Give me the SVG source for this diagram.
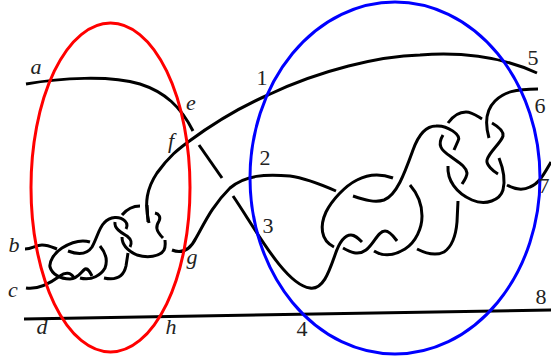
<svg xmlns="http://www.w3.org/2000/svg" width="551" height="356" viewBox="0 0 551 356">
<style>
.s{fill:none;stroke:#000;stroke-width:3;stroke-linecap:butt}
.t{font-family:"Liberation Serif","Times New Roman",serif;font-size:22px;fill:#222;text-anchor:middle}
.i{font-style:italic}
</style>
<rect width="551" height="356" fill="#fff"/>
<g id="connectors">
<path class="s" d="M26,84 C60,78 110,75 140,84 C165,92 181,107 193,131"/>
<path class="s" d="M199,145 L222,178"/>
<path class="s" d="M233,196 C255,228 285,285 310,288 C323,290 329,272 335,255 C340,240 345,235 351,235 C355,235 358,238 362,242"/>
<path class="s" d="M149,223 C144,203 147,188 157,173 C170,155 180,148 188,142 C215,122 245,105 268,95 C320,70 380,56 420,55 C460,52 500,56 537,73"/>
<path class="s" d="M172,250 C182,254 190,250 196,238 C205,222 212,206 230,188 C245,175 265,174 290,176 C305,178 320,184 336,191"/>
<path class="s" d="M24,319 L551,310"/>
<path class="s" d="M393,178 C385,175 372,172 357,180 C345,186 332,200 326,212 C320,225 320,240 334,247"/>
<path class="s" d="M353,196 C365,200 375,203 384,200 C397,195 405,172 413,150 C418,136 425,126 436,126 C447,125 462,135 458,141 L454,150"/>
<path class="s" d="M343,248 C350,252 358,256 366,250 C374,244 378,231 385,231 C390,231 394,237 397,241"/>
<path class="s" d="M374,251 C382,256 392,257 405,249 C416,242 422,228 422,216 C422,204 417,193 410,185"/>
<path class="s" d="M417,249 C425,253 436,256 444,252 C453,246 456,234 457,222 L458,201"/>
<path class="s" d="M448,166 C447,180 456,193 472,200 C486,206 500,200 503,190 C506,178 503,168 499,158"/>
<path class="s" d="M443,135 C437,145 441,150 450,156 C458,162 466,166 467,173 C467,177 464,181 462,184"/>
<path class="s" d="M448,123 C453,116 459,112 466,112 C472,112 477,116 482,119"/>
<path class="s" d="M489,138 C485,124 486,110 495,101 C504,92 515,89 538,89"/>
<path class="s" d="M492,123 C499,127 504,131 503,136 C501,143 489,152 487,160 C486,165 493,171 498,174"/>
<path class="s" d="M507,185 C514,189 522,191 530,187 C540,183 545,172 551,162"/>
<path class="s" d="M25,249 C32,249 36,245 42,245 C48,245 52,247 57,249"/>
<path class="s" d="M26,288 C38,290 49,284 60,276 C65,272 71,272 74,278"/>
<path class="s" d="M90,242 C80,239 70,243 62,248 C54,253 49,262 50,267 C52,274 60,279 70,279 C78,279 81,272 85,269 C88,268 90,272 92,276"/>
<path class="s" d="M68,251 C76,254 86,256 92,247 C97,238 99,228 104,223 C110,216 120,216 125,221 C128,224 127,227 126,229"/>
<path class="s" d="M100,246 C105,252 108,260 105,268 C101,275 92,281 80,278"/>
<path class="s" d="M115,222 C114,229 122,233 127,236 C132,240 132,243 130,247"/>
<path class="s" d="M122,215 C127,209 133,206 140,206"/>
<path class="s" d="M147,205 L148,222"/>
<path class="s" d="M155,213 C159,214 161,217 159,221 C156,226 155,230 163,238"/>
<path class="s" d="M122,237 C122,245 128,251 137,255 C147,258 160,257 164,250 C166,246 165,243 165,240"/>
<path class="s" d="M128,253 L126,266 C124,275 118,281 104,278"/>
</g>
<g id="red-ellipse"><ellipse cx="110.500" cy="187.500" rx="79.500" ry="164.500" fill="none" stroke="#f00" stroke-width="3"/></g>
<g id="blue-ellipse"><ellipse cx="395" cy="178" rx="145" ry="176" fill="none" stroke="#00f" stroke-width="3"/></g>
<g id="labels">
<text class="t i" x="36" y="74">a</text>
<text class="t i" x="191" y="110">e</text>
<text class="t i" x="171" y="148">f</text>
<text class="t i" x="14" y="252">b</text>
<text class="t i" x="13" y="297">c</text>
<text class="t i" x="192" y="264">g</text>
<text class="t i" x="42" y="334">d</text>
<text class="t i" x="171" y="334">h</text>
<text class="t" x="262" y="85">1</text>
<text class="t" x="265" y="165">2</text>
<text class="t" x="268" y="233">3</text>
<text class="t" x="302" y="336">4</text>
<text class="t" x="533" y="65">5</text>
<text class="t" x="540" y="113">6</text>
<text class="t" x="544" y="193">7</text>
<text class="t" x="541" y="304">8</text>
</g>
</svg>
